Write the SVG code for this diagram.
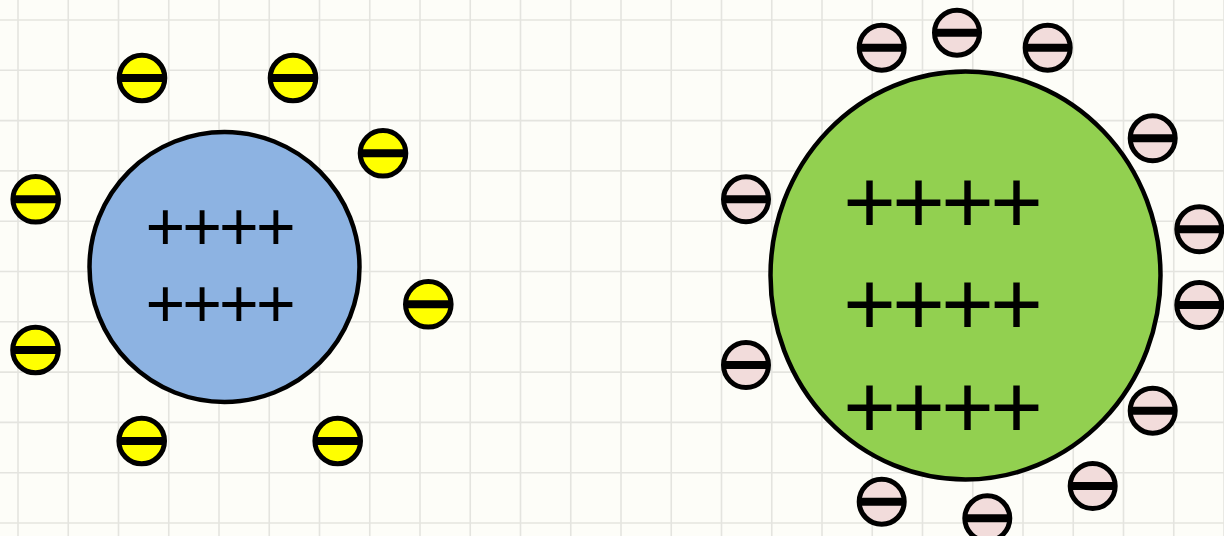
<svg xmlns="http://www.w3.org/2000/svg" width="1224" height="536" viewBox="0 0 1224 536">
<style>
.grid line{stroke:#e4e4df;stroke-width:1.6}
.big{stroke:#000;stroke-width:4.5}
.plus{font-family:"Liberation Sans",Arial,sans-serif;fill:#000}
.ey circle{fill:#ffff00;stroke:#000;stroke-width:5}
.ep circle{fill:#f2dcdb;stroke:#000;stroke-width:5}
.bar{stroke:#000;stroke-width:8}
</style>
<defs>
<g id="ebar"><line class="bar" x1="-22" y1="0" x2="22" y2="0"/></g>
</defs>
<rect x="0" y="0" width="1224" height="536" fill="#fdfdf8"/>
<g class="grid">
<line x1="18" y1="0" x2="18" y2="536"/><line x1="68.25" y1="0" x2="68.25" y2="536"/><line x1="118.5" y1="0" x2="118.5" y2="536"/><line x1="168.75" y1="0" x2="168.75" y2="536"/><line x1="219" y1="0" x2="219" y2="536"/><line x1="269.25" y1="0" x2="269.25" y2="536"/><line x1="319.5" y1="0" x2="319.5" y2="536"/><line x1="369.75" y1="0" x2="369.75" y2="536"/><line x1="420" y1="0" x2="420" y2="536"/><line x1="470.25" y1="0" x2="470.25" y2="536"/><line x1="520.5" y1="0" x2="520.5" y2="536"/><line x1="570.75" y1="0" x2="570.75" y2="536"/><line x1="621" y1="0" x2="621" y2="536"/><line x1="671.25" y1="0" x2="671.25" y2="536"/><line x1="721.5" y1="0" x2="721.5" y2="536"/><line x1="771.75" y1="0" x2="771.75" y2="536"/><line x1="822" y1="0" x2="822" y2="536"/><line x1="872.25" y1="0" x2="872.25" y2="536"/><line x1="922.5" y1="0" x2="922.5" y2="536"/><line x1="972.75" y1="0" x2="972.75" y2="536"/><line x1="1023" y1="0" x2="1023" y2="536"/><line x1="1073.25" y1="0" x2="1073.25" y2="536"/><line x1="1123.5" y1="0" x2="1123.5" y2="536"/><line x1="1173.75" y1="0" x2="1173.75" y2="536"/><line x1="1224" y1="0" x2="1224" y2="536"/>
<line x1="0" y1="20" x2="1224" y2="20"/><line x1="0" y1="70.3" x2="1224" y2="70.3"/><line x1="0" y1="120.6" x2="1224" y2="120.6"/><line x1="0" y1="170.9" x2="1224" y2="170.9"/><line x1="0" y1="221.2" x2="1224" y2="221.2"/><line x1="0" y1="271.5" x2="1224" y2="271.5"/><line x1="0" y1="321.8" x2="1224" y2="321.8"/><line x1="0" y1="372.1" x2="1224" y2="372.1"/><line x1="0" y1="422.4" x2="1224" y2="422.4"/><line x1="0" y1="472.7" x2="1224" y2="472.7"/><line x1="0" y1="523" x2="1224" y2="523"/>
</g>
<g id="blue-sphere">
<circle class="big" cx="224.5" cy="267" r="135" fill="#8db3e2"/>
<text class="plus" x="145.5" y="250" font-size="68" letter-spacing="-2.9">++++</text>
<text class="plus" x="145.5" y="327" font-size="68" letter-spacing="-2.9">++++</text>
</g>
<g id="yellow-electrons" class="ey">
<g id="ey1" transform="translate(142,78)"><circle r="22.8"/><use href="#ebar"/></g>
<g id="ey2" transform="translate(293,78)"><circle r="22.8"/><use href="#ebar"/></g>
<g id="ey3" transform="translate(383,153.3)"><circle r="22.8"/><use href="#ebar"/></g>
<g id="ey4" transform="translate(35.7,199.3)"><circle r="22.8"/><use href="#ebar"/></g>
<g id="ey5" transform="translate(428.3,304.3)"><circle r="22.8"/><use href="#ebar"/></g>
<g id="ey6" transform="translate(35.5,350)"><circle r="22.8"/><use href="#ebar"/></g>
<g id="ey7" transform="translate(141.7,441)"><circle r="22.8"/><use href="#ebar"/></g>
<g id="ey8" transform="translate(337.7,441)"><circle r="22.8"/><use href="#ebar"/></g>
</g>
<g id="green-sphere">
<ellipse class="big" cx="965.5" cy="275.5" rx="195" ry="204" fill="#92d050"/>
<text class="plus" x="843.3" y="233" font-size="90" letter-spacing="-3.6">++++</text>
<text class="plus" x="843.3" y="335" font-size="90" letter-spacing="-3.6">++++</text>
<text class="plus" x="843.3" y="438" font-size="90" letter-spacing="-3.6">++++</text>
</g>
<g id="pink-electrons" class="ep">
<g id="ep1" transform="translate(881.7,47.7)"><circle r="22.5"/><use href="#ebar"/></g>
<g id="ep2" transform="translate(957,32.7)"><circle r="22.5"/><use href="#ebar"/></g>
<g id="ep3" transform="translate(1047.7,47.7)"><circle r="22.5"/><use href="#ebar"/></g>
<g id="ep4" transform="translate(1152.7,138.3)"><circle r="22.5"/><use href="#ebar"/></g>
<g id="ep5" transform="translate(746,199.3)"><circle r="22.5"/><use href="#ebar"/></g>
<g id="ep6" transform="translate(1199.3,229.3)"><circle r="22.5"/><use href="#ebar"/></g>
<g id="ep7" transform="translate(1199.3,305)"><circle r="22.5"/><use href="#ebar"/></g>
<g id="ep8" transform="translate(746,365)"><circle r="22.5"/><use href="#ebar"/></g>
<g id="ep9" transform="translate(1152.7,410.7)"><circle r="22.5"/><use href="#ebar"/></g>
<g id="ep10" transform="translate(1092.7,486)"><circle r="22.5"/><use href="#ebar"/></g>
<g id="ep11" transform="translate(881.7,501.7)"><circle r="22.5"/><use href="#ebar"/></g>
<g id="ep12" transform="translate(987.3,518.3)"><circle r="22.5"/><use href="#ebar"/></g>
</g>
</svg>
